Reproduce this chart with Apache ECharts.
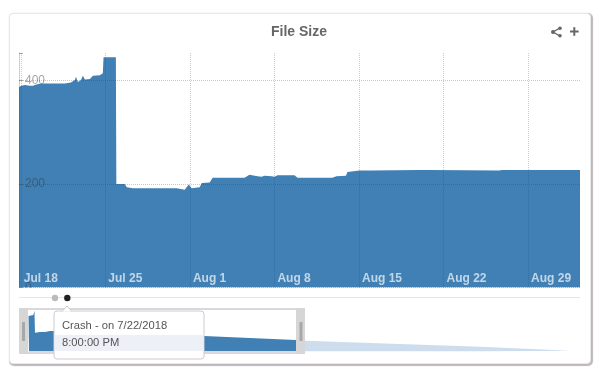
<!DOCTYPE html>
<html>
<head>
<meta charset="utf-8">
<script src="https://cdn.jsdelivr.net/npm/echarts@6/dist/echarts.min.js"></script>
<style>
html,body{margin:0;padding:0;background:#fff;}
#card{position:absolute;left:9px;top:13px;width:580px;height:349px;background:#fff;border:1px solid #e8e8e8;border-radius:4px;box-shadow:1px 1px 1px 1px #bdb6bc;box-sizing:content-box;}
#chart{position:absolute;left:0;top:0;width:600px;height:379px;}
</style>
</head>
<body>
<div id="card"></div>
<div id="chart"></div>
<script>
// Days are counted from the start of July 2018 (Aug 1 = 32)
const titleText = 'File Size';
const tickDays = [18, 25, 32, 39, 46, 53, 60];
const tickLabels = ['Jul 18', 'Jul 25', 'Aug 1', 'Aug 8', 'Aug 15', 'Aug 22', 'Aug 29'];
const sizeTicks = [0, 200, 400];

const days = [17.85,18.02,18.35,18.76,19.0,19.42,19.83,20.41,21.65,22.15,22.48,22.56,22.73,22.98,23.14,23.31,23.72,23.97,24.55,24.79,24.85,25.87,25.91,26.03,26.6,26.78,27.27,28.68,30.91,31.07,31.57,31.9,32.15,32.81,32.98,33.64,33.88,36.53,36.93,37.6,37.93,38.18,38.76,39.0,39.26,40.66,40.91,43.8,44.13,44.92,45.04,46.03,47.02,50.99,51.82,51.98,57.6,57.85,64.3];
const sizes = [387,390,391,390,390,393,394,394,394,396,401,407,397,401,409,402,403,409,410,414,445,445,200,200,200,194,192,192,192,189,189,199,192,194,202,203,212,212,218,215,214,216,215,214,217,217,212,212,215,216,223,226,226,227,227,226,226,227,227];

const navDays = [17.94,18.02,18.76,18.96,19.05,19.91,20.77,21.62,22.14,48.04,63.82];
const navSizes = [389,389,400,447,206,214,214,225,225,170,127];
const navRestDays = [63.82,65.5,95.4,111];
const navRestSizes = [127,118,53,9];

const tooltipLines = ['Crash - on 7/22/2018', '8:00:00 PM'];

const pair = (xs, ys) => xs.map((x, i) => [x, ys[i]]);
const labelFont = '"Liberation Sans", Arial, sans-serif';
const ink = '#666666';
const band = { fill: '#d6d6d6' };
const grip = { fill: '#a8a8a8' };

const overlay = [
  // mask under the plot, clips the zero label
  { type: 'rect', shape: { x: 19, y: 288, width: 40, height: 8 }, style: { fill: '#fff' } },
  // separator and pager dots
  { type: 'line', shape: { x1: 19, y1: 297.5, x2: 580, y2: 297.5 }, style: { stroke: '#e6e6e6', lineWidth: 1 } },
  { type: 'circle', shape: { cx: 55, cy: 298, r: 3.2 }, style: { fill: '#bbbbbb' } },
  { type: 'circle', shape: { cx: 67.3, cy: 298, r: 3.2 }, style: { fill: '#222222' } },
  // share icon
  { type: 'polyline', shape: { points: [[560, 28], [553, 32], [560, 36]] }, style: { stroke: ink, lineWidth: 1.4, fill: 'none' } },
  { type: 'circle', shape: { cx: 553, cy: 32, r: 2 }, style: { fill: ink } },
  { type: 'circle', shape: { cx: 560, cy: 28.2, r: 1.8 }, style: { fill: ink } },
  { type: 'circle', shape: { cx: 560, cy: 35.8, r: 1.8 }, style: { fill: ink } },
  // plus icon
  { type: 'rect', shape: { x: 570, y: 30.5, width: 8.6, height: 2 }, style: { fill: ink } },
  { type: 'rect', shape: { x: 573.3, y: 27.2, width: 2, height: 8.6 }, style: { fill: ink } },
  // navigator window
  { type: 'rect', shape: { x: 19, y: 308, width: 9, height: 46 }, style: band },
  { type: 'rect', shape: { x: 296, y: 308, width: 9, height: 46 }, style: band },
  { type: 'rect', shape: { x: 28, y: 308, width: 268, height: 2 }, style: { fill: '#dcd7de' } },
  { type: 'rect', shape: { x: 28, y: 351.5, width: 268, height: 2.5 }, style: { fill: '#dcd7de' } },
  { type: 'rect', shape: { x: 22, y: 322, width: 3, height: 19 }, style: grip },
  { type: 'rect', shape: { x: 299.5, y: 322, width: 3, height: 19 }, style: grip },
  // tooltip
  { type: 'rect', shape: { x: 54, y: 311, width: 150, height: 48, r: 3 }, style: { fill: '#fff', stroke: '#cccccc', lineWidth: 1 } },
  { type: 'polyline', shape: { points: [[62, 311.5], [67, 306], [72, 311.5]] }, style: { fill: '#fff', stroke: '#cccccc', lineWidth: 1 } },
  { type: 'rect', shape: { x: 54.5, y: 335, width: 149, height: 16 }, style: { fill: '#eef0f8' } },
  { type: 'text', x: 62, y: 325.5, style: { text: tooltipLines[0], fill: '#555', font: '11.2px ' + labelFont, verticalAlign: 'middle' } },
  { type: 'text', x: 62, y: 343, style: { text: tooltipLines[1], fill: '#555', font: '11.2px ' + labelFont, verticalAlign: 'middle' } }
].map((el, i) => ({ ...el, z: 100 + i }));

const chart = echarts.init(document.getElementById('chart'), null, { renderer: 'canvas' });
chart.setOption({
  animation: false,
  backgroundColor: 'transparent',
  textStyle: { fontFamily: labelFont },
  title: {
    text: titleText, left: 269, top: 23,
    padding: 2,
    textStyle: { fontSize: 14, fontWeight: 'bold', color: ink, fontFamily: labelFont }
  },
  grid: [
    { left: 19, right: 20, top: 53, height: 234.6, containLabel: false },
    { left: 28, right: 29, top: 308, height: 43.5, containLabel: false }
  ],
  xAxis: [
    {
      type: 'value', gridIndex: 0, min: 17.85, max: 64.3, z: 3,
      axisLine: { show: false },
      axisTick: { show: false, customValues: tickDays },
      axisLabel: {
        inside: true, customValues: tickDays, align: 'left', verticalAlign: 'bottom',
        margin: 3, padding: [0, 0, 0, 3], fontSize: 12, fontWeight: 'bold',
        color: 'rgba(255,255,255,0.68)', fontFamily: labelFont,
        formatter: v => tickLabels[tickDays.indexOf(v)]
      },
      splitLine: { show: true, lineStyle: { color: 'rgba(40,50,70,0.25)', type: 'dotted', width: 1 } }
    },
    {
      type: 'value', gridIndex: 1, min: 17.85, max: 111,
      axisLine: { show: false }, axisTick: { show: false }, axisLabel: { show: false }, splitLine: { show: false }
    }
  ],
  yAxis: [
    {
      type: 'value', gridIndex: 0, min: 0, max: 453, z: 3,
      axisLine: { show: true, lineStyle: { color: 'rgba(70,70,70,0.3)', type: 'dotted' } },
      axisTick: { show: true, inside: true, length: 4, customValues: [...sizeTicks, 453], lineStyle: { color: 'rgba(70,70,70,0.45)' } },
      axisLabel: {
        inside: true, customValues: sizeTicks, margin: 6, fontSize: 12,
        color: 'rgba(50,50,50,0.45)', fontFamily: labelFont
      },
      splitLine: { show: true, showMaxLine: false, lineStyle: { color: 'rgba(30,40,60,0.25)', type: 'dotted', width: 1 } }
    },
    {
      type: 'value', gridIndex: 1, min: 0, max: 476,
      axisLine: { show: false }, axisTick: { show: false }, axisLabel: { show: false }, splitLine: { show: false }
    }
  ],
  series: [
    {
      name: 'File Size', type: 'line', xAxisIndex: 0, yAxisIndex: 0, data: pair(days, sizes),
      symbol: 'none', lineStyle: { width: 0 }, areaStyle: { color: '#4080b5', opacity: 1 }, z: 2
    },
    {
      name: 'Selected', type: 'line', xAxisIndex: 1, yAxisIndex: 1, data: pair(navDays, navSizes),
      symbol: 'none', lineStyle: { width: 0 }, areaStyle: { color: '#4080b5', opacity: 1 }, z: 2
    },
    {
      name: 'Remaining', type: 'line', xAxisIndex: 1, yAxisIndex: 1, data: pair(navRestDays, navRestSizes),
      symbol: 'none', lineStyle: { width: 0 }, areaStyle: { color: '#cddded', opacity: 1 }, z: 2
    }
  ],
  graphic: { elements: overlay }
});
</script>
</body>
</html>
